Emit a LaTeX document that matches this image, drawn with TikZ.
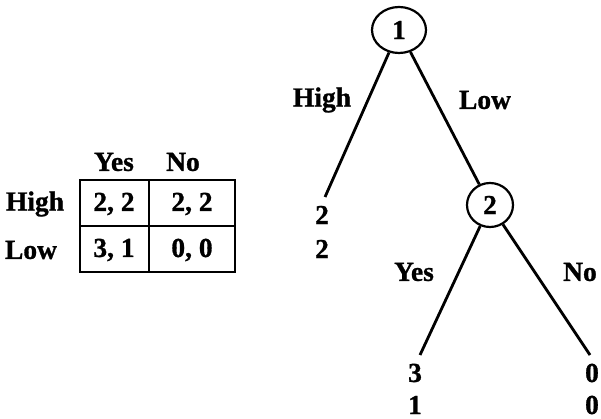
\documentclass[tikz,border=0pt]{standalone}
\usepackage{fontspec}
\setmainfont{Liberation Serif}
\newfontfamily\heavyfont[FakeBold=1]{Liberation Serif Bold}
\usetikzlibrary{shapes.geometric}
\begin{document}
\begin{tikzpicture}[x=1pt,y=-1pt,
  every node/.style={font=\heavyfont\fontsize{27.5}{32}\selectfont, inner sep=0pt},
  dnode/.style={draw, ellipse, line width=2.2pt},
  branch/.style={line width=2.8pt},
  grid/.style={line width=2.2pt}]
\useasboundingbox (0,0) rectangle (601,419);
% tree
\node[dnode, minimum width=54pt, minimum height=46pt] (n1) at (399,30) {1};
\node[dnode, minimum width=46pt, minimum height=44pt] (n2) at (490,205) {2};
\coordinate (lh) at (325,197);
\coordinate (ly) at (420,355);
\coordinate (ln) at (590,355);
\draw[branch] (n1) -- (lh);
\draw[branch] (n1) -- (n2);
\draw[branch] (n2) -- (ly);
\draw[branch] (n2) -- (ln);
\node (tHigh) at (322,100) {High};
\node (tLow) at (485,100) {Low};
\node (tYes) at (414,272) {Yes};
\node (tNo) at (580,272) {No};
\node (p1a) at (322,215) {2};
\node (p1b) at (322,249) {2};
\node (p2a) at (415,373) {3};
\node (p2b) at (415,405) {1};
\node (p3a) at (592,373) {0};
\node (p3b) at (592,405) {0};
% table
\draw[grid] (80,180) rectangle (235,272);
\draw[grid] (149,180) -- (149,272);
\draw[grid] (80,226) -- (235,226);
\node (hYes) at (114,162) {Yes};
\node (hNo) at (183,162) {No};
\node (rHigh) at (35,204) {High};
\node (rLow) at (31,250) {Low};
\node (c11) at (114,204) {2, 2};
\node (c12) at (192,204) {2, 2};
\node (c21) at (114,250) {3, 1};
\node (c22) at (192,250) {0, 0};
\end{tikzpicture}
\end{document}
